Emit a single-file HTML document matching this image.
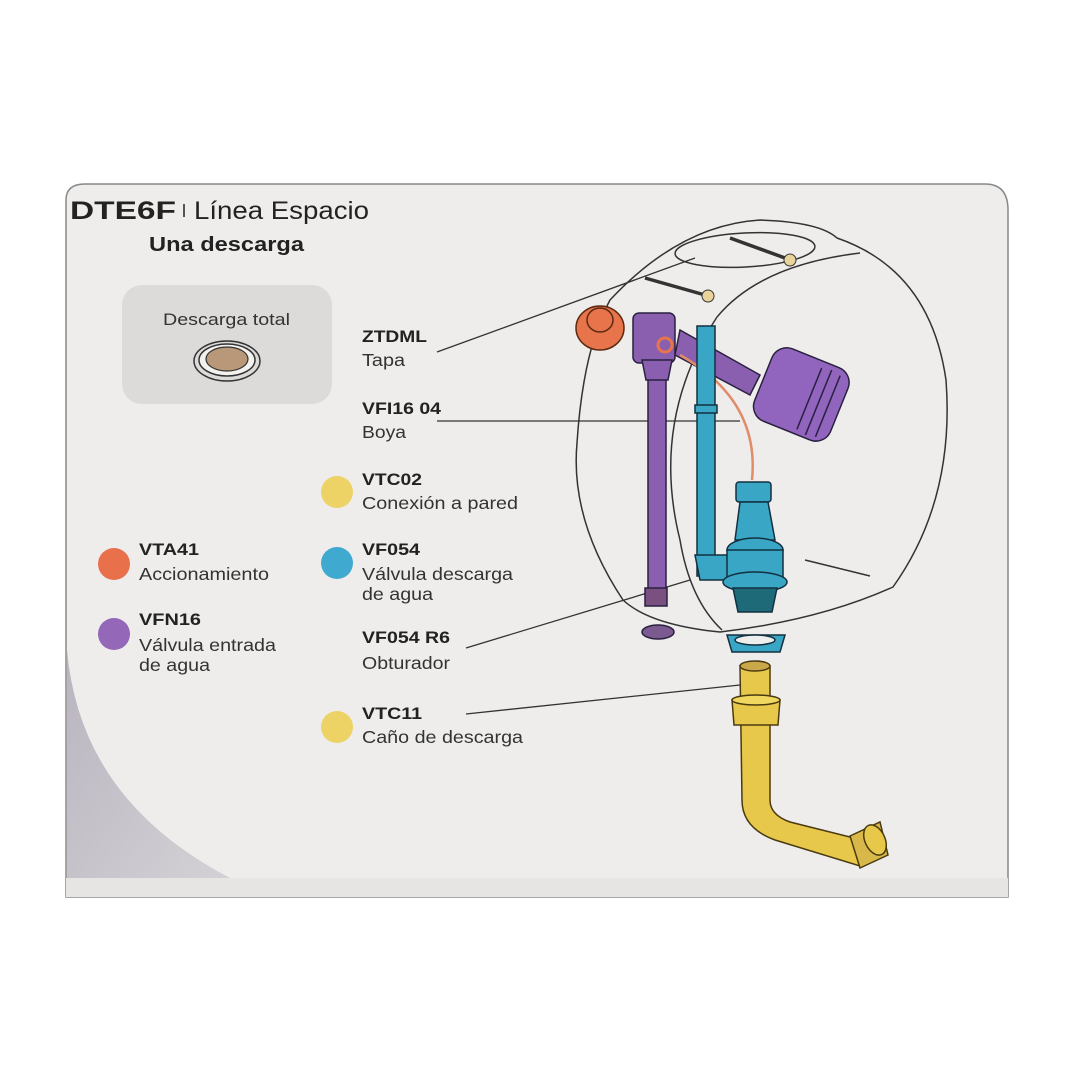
<!DOCTYPE html>
<html><head><meta charset="utf-8"><style>
html,body{margin:0;padding:0;background:#fff;}
svg{display:block;}
text{font-family:"Liberation Sans",Arial,sans-serif;fill:#222;}
.b{font-weight:bold;font-size:16.5px;}
.n{font-size:17.5px;fill:#333;}
</style></head><body>
<svg width="1080" height="1080" viewBox="0 0 1080 1080" xmlns="http://www.w3.org/2000/svg">
<defs>
<linearGradient id="pg" x1="0" y1="0" x2="1" y2="1">
<stop offset="0" stop-color="#b9b4bf"/><stop offset="1" stop-color="#d4d1d6"/></linearGradient>
</defs>
<rect width="1080" height="1080" fill="#fff"/>
<path d="M66,200 Q66,184 85,184 L985,184 Q1008,184 1008,210 L1008,897 L66,897 Z" fill="#eeedeb" stroke="#888" stroke-width="1.5"/>
<rect x="66" y="878" width="942" height="19" fill="#e6e5e3"/>
<path d="M67,650 Q80,800 230,878 L67,878 Z" fill="url(#pg)"/>
<text x="70" y="219" style="font-weight:bold;font-size:25px" textLength="106" lengthAdjust="spacingAndGlyphs">DTE6F</text>
<rect x="183" y="204" width="2" height="13" fill="#555"/>
<text x="194" y="219" style="font-size:25px" textLength="175" lengthAdjust="spacingAndGlyphs">Línea Espacio</text>
<text x="149" y="251" style="font-weight:bold;font-size:20px" textLength="155" lengthAdjust="spacingAndGlyphs">Una descarga</text>
<rect x="122" y="285" width="210" height="119" rx="20" fill="#dcdbda"/>
<text x="163" y="325" style="font-size:17px;fill:#333" textLength="127" lengthAdjust="spacingAndGlyphs">Descarga total</text>
<ellipse cx="227" cy="361" rx="33" ry="20" fill="none" stroke="#333" stroke-width="1.5"/>
<ellipse cx="227" cy="360" rx="28" ry="16" fill="#f4f2ee" stroke="#333" stroke-width="1.5"/>
<ellipse cx="227" cy="359" rx="21" ry="12" fill="#b89878" stroke="#333" stroke-width="1.2"/>
<circle cx="114" cy="564" r="16" fill="#e8704b"/>
<text x="139" y="555" class="b" textLength="60" lengthAdjust="spacingAndGlyphs">VTA41</text>
<text x="139" y="580" class="n" textLength="130" lengthAdjust="spacingAndGlyphs">Accionamiento</text>
<circle cx="114" cy="634" r="16" fill="#9467b8"/>
<text x="139" y="625" class="b" textLength="62" lengthAdjust="spacingAndGlyphs">VFN16</text>
<text x="139" y="651" class="n" textLength="137" lengthAdjust="spacingAndGlyphs">Válvula entrada</text>
<text x="139" y="671" class="n" textLength="71" lengthAdjust="spacingAndGlyphs">de agua</text>
<text x="362" y="342" class="b" textLength="65" lengthAdjust="spacingAndGlyphs">ZTDML</text>
<text x="362" y="366" class="n" textLength="43" lengthAdjust="spacingAndGlyphs">Tapa</text>
<text x="362" y="414" class="b" textLength="79" lengthAdjust="spacingAndGlyphs">VFI16 04</text>
<text x="362" y="438" class="n" textLength="44" lengthAdjust="spacingAndGlyphs">Boya</text>
<circle cx="337" cy="492" r="16" fill="#edd265"/>
<text x="362" y="485" class="b" textLength="60" lengthAdjust="spacingAndGlyphs">VTC02</text>
<text x="362" y="509" class="n" textLength="156" lengthAdjust="spacingAndGlyphs">Conexión a pared</text>
<circle cx="337" cy="563" r="16" fill="#3fa9cf"/>
<text x="362" y="555" class="b" textLength="58" lengthAdjust="spacingAndGlyphs">VF054</text>
<text x="362" y="580" class="n" textLength="151" lengthAdjust="spacingAndGlyphs">Válvula descarga</text>
<text x="362" y="600" class="n" textLength="71" lengthAdjust="spacingAndGlyphs">de agua</text>
<text x="362" y="643" class="b" textLength="88" lengthAdjust="spacingAndGlyphs">VF054 R6</text>
<text x="362" y="669" class="n" textLength="88" lengthAdjust="spacingAndGlyphs">Obturador</text>
<circle cx="337" cy="727" r="16" fill="#edd265"/>
<text x="362" y="719" class="b" textLength="60" lengthAdjust="spacingAndGlyphs">VTC11</text>
<text x="362" y="743" class="n" textLength="161" lengthAdjust="spacingAndGlyphs">Caño de descarga</text>
<g stroke="#333" stroke-width="1.3" fill="none">
<line x1="437" y1="352" x2="695" y2="258"/>
<line x1="437" y1="421" x2="740" y2="421"/>
<line x1="466" y1="648" x2="690" y2="580"/>
<line x1="466" y1="714" x2="740" y2="685"/>
</g>
<g stroke="#333" stroke-width="1.5" fill="none">
<path d="M610,300 Q680,225 760,220 Q820,222 837,238 Q930,270 946,380 Q955,500 893,587 Q820,620 720,632 Q650,625 623,600 Q570,520 577,443 Q583,350 610,300 Z"/>
<path d="M717,317 Q760,265 860,253"/>
<path d="M717,317 Q650,420 680,540 Q690,600 722,630"/>
<ellipse cx="745" cy="250" rx="70" ry="17" transform="rotate(-3 745 250)"/>
<line x1="805" y1="560" x2="870" y2="576"/>
</g>
<g stroke="#333" stroke-width="3.5"><line x1="730" y1="238" x2="785" y2="258"/><line x1="645" y1="278" x2="705" y2="295"/></g>
<circle cx="790" cy="260" r="6" fill="#e8d49a" stroke="#333"/>
<circle cx="708" cy="296" r="6" fill="#e8d49a" stroke="#333"/>
<g stroke="#2a2040" stroke-width="1.5">
<rect x="648" y="372" width="18" height="220" fill="#8a5fb0"/>
<rect x="633" y="313" width="42" height="50" rx="6" fill="#8a5fb0"/>
<path d="M642,360 L672,360 L668,380 L646,380 Z" fill="#8a5fb0"/>
<path d="M680,330 L760,375 L750,395 L675,355 Z" fill="#8a5fb0"/>
<rect x="645" y="588" width="22" height="18" fill="#7a5080"/>
<ellipse cx="658" cy="632" rx="16" ry="7" fill="#7a5a90"/>
<g transform="rotate(22 800 395)"><rect x="760" y="355" width="82" height="78" rx="16" fill="#9165bd"/>
<line x1="810" y1="362" x2="810" y2="428"/><line x1="820" y1="360" x2="820" y2="430"/><line x1="830" y1="362" x2="830" y2="428"/></g>
</g>
<g stroke="#5a2a10" stroke-width="1.5">
<ellipse cx="600" cy="328" rx="24" ry="22" fill="#e8744c"/>
<ellipse cx="600" cy="320" rx="13" ry="12" fill="#e8744c"/>
<circle cx="665" cy="345" r="7" fill="none" stroke="#e8744c" stroke-width="3"/>
</g>
<path d="M680,355 Q760,400 752,480" stroke="#e08c6a" stroke-width="2.5" fill="none"/>
<g stroke="#123040" stroke-width="1.5">
<rect x="697" y="326" width="18" height="250" fill="#3aa6c6"/>
<rect x="695" y="405" width="22" height="8" fill="#3aa6c6"/>
<path d="M695,555 L740,555 L740,580 L700,580 Z" fill="#3aa6c6"/>
<rect x="736" y="482" width="35" height="20" rx="3" fill="#3aa6c6"/>
<path d="M740,502 L768,502 L775,540 L735,540 Z" fill="#3aa6c6"/>
<ellipse cx="755" cy="550" rx="28" ry="12" fill="#3aa6c6"/>
<rect x="727" y="550" width="56" height="30" fill="#3aa6c6"/>
<ellipse cx="755" cy="582" rx="32" ry="10" fill="#3aa6c6"/>
<path d="M733,588 L777,588 L772,612 L738,612 Z" fill="#1e6a78"/>
<path d="M727,635 L785,635 L780,652 L732,652 Z" fill="#3aa6c6"/>
<ellipse cx="755" cy="640" rx="20" ry="5" fill="#eee"/>
</g>
<g stroke="#4a3a10" stroke-width="1.5">
<path d="M740,666 L770,666 L770,800 Q770,815 790,822 L870,842 L860,866 L775,840 Q742,828 742,800 Z" fill="#e8c84a"/>
<ellipse cx="755" cy="666" rx="15" ry="5" fill="#c8a848"/>
<path d="M732,700 L780,700 L778,725 L734,725 Z" fill="#e8c84a"/>
<ellipse cx="756" cy="700" rx="24" ry="5" fill="#f0d860"/>
<path d="M850,836 L880,822 L888,855 L860,868 Z" fill="#d8b848"/>
<ellipse cx="875" cy="840" rx="10" ry="16" transform="rotate(-25 875 840)" fill="#e8c84a"/>
</g>
</svg>
</body></html>
